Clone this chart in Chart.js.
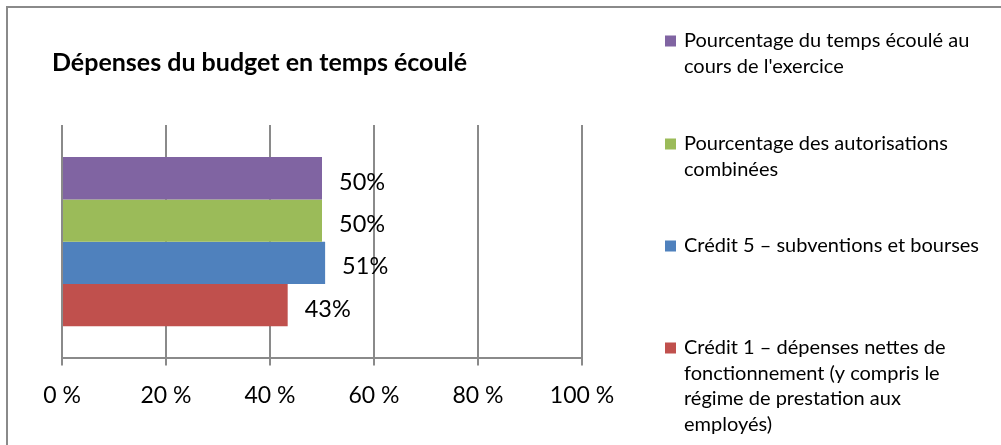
<!DOCTYPE html>
<html>
<head>
<meta charset="utf-8">
<script src="https://cdn.jsdelivr.net/npm/chart.js@4.4.1/dist/chart.umd.min.js"></script>
<style>
    html, body { margin: 0; padding: 0; background: #fff; overflow: hidden; }
    #wrap { position: relative; width: 1001px; height: 445px; }
    #frame { position: absolute; left: 6px; top: 6px; width: 1100px; height: 600px; border: 2px solid #8a8a8a; box-sizing: border-box; }
    #chart { position: absolute; left: 0; top: 0; }
</style>
</head>
<body>
<div id="wrap">
    <div id="frame"></div>
    <canvas id="chart" width="1001" height="445"></canvas>
</div>
<script>
        let chart_title = 'Dépenses du budget en temps écoulé';
        let categories = ['Dépenses'];
        let series_names = [
            ['Pourcentage du temps écoulé au', "cours de l'exercice"],
            ['Pourcentage des autorisations', 'combinées'],
            ['Crédit 5 – subventions et bourses'],
            ['Crédit 1 – dépenses nettes de', 'fonctionnement (y compris le', 'régime de prestation aux', 'employés)']
        ];
        let series_values = [50, 50, 50.6, 43.4];
        let series_colors = ['#8064A2', '#9BBB59', '#4F81BD', '#C0504D'];
        let x_ticks = [0, 20, 40, 60, 80, 100];

        let font_family = 'Lato, "Open Sans", sans-serif';

        let datasets = series_values.map((v, i) => ({
            label: series_names[i].join(' '),
            data: [v],
            backgroundColor: series_colors[i],
            borderWidth: 0,
            barPercentage: 1,
            categoryPercentage: 0.725
        }));

        // titre, etiquettes de valeurs et legende dessines a la main
        let extras_plugin = {
            id: 'extras',
            afterDatasetsDraw(chart) {
                let ctx = chart.ctx;
                ctx.save();
                ctx.fillStyle = '#000';
                ctx.textBaseline = 'middle';
                ctx.textAlign = 'left';
                ctx.font = '23.5px ' + font_family;
                chart.data.datasets.forEach((ds, i) => {
                    let bar = chart.getDatasetMeta(i).data[0];
                    ctx.fillText(Math.round(ds.data[0]) + '%', bar.x + 17, bar.y + 4);
                });

                ctx.font = 'bold 25px ' + font_family;
                ctx.fillText(chart_title, 52, 63);

                let legend_tops = [41, 144, 246, 348];
                ctx.font = '20px ' + font_family;
                series_names.forEach((lines, i) => {
                    ctx.fillStyle = series_colors[i];
                    ctx.fillRect(665, legend_tops[i] - 5.5, 11, 11);
                    ctx.fillStyle = '#000';
                    lines.forEach((line, j) => {
                        ctx.fillText(line, 684, legend_tops[i] + j * 25.5);
                    });
                });
                ctx.restore();
            }
        };

        let budget_chart = new Chart(document.getElementById('chart'), {
            type: 'bar',
            data: {
                labels: categories,
                datasets: datasets
            },
            options: {
                indexAxis: 'y',
                responsive: false,
                animation: false,
                layout: {
                    padding: { left: 62, right: 419, top: 125, bottom: 20 }
                },
                plugins: {
                    legend: { display: false },
                    title: { display: false },
                    tooltip: { enabled: false }
                },
                scales: {
                    y: {
                        display: false
                    },
                    x: {
                        min: x_ticks[0],
                        max: x_ticks[x_ticks.length - 1],
                        afterBuildTicks: (axis) => {
                            axis.ticks = x_ticks.map(v => ({ value: v }));
                        },
                        grid: {
                            color: '#8a8a8a',
                            lineWidth: 2,
                            tickLength: 7,
                            drawOnChartArea: true
                        },
                        border: { color: '#8a8a8a', width: 2 },
                        ticks: {
                            padding: 16,
                            color: '#000',
                            maxRotation: 0,
                            font: { size: 23, family: font_family },
                            callback: (v) => v + ' %'
                        }
                    }
                }
            },
            plugins: [extras_plugin]
        });
</script>
</body>
</html>
